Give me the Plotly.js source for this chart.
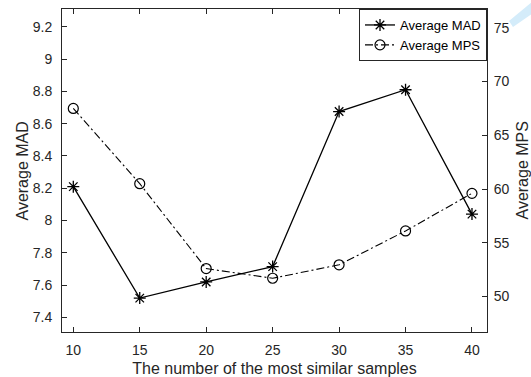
<!DOCTYPE html>
<html>
<head>
<meta charset="utf-8">
<script src="https://cdn.plot.ly/plotly-3.0.1.min.js"></script>
<style>html,body{margin:0;padding:0;background:#fff;}#chart{width:531px;height:377px;}</style>
</head>
<body>
<div id="chart"></div>
<script>
// Data
const samples = [10, 15, 20, 25, 30, 35, 40];
const averageMAD = [8.21, 7.52, 7.62, 7.715, 8.675, 8.81, 8.04];
const averageMPS = [67.5, 60.5, 52.6, 51.7, 52.95, 56.1, 59.6];
const xTicks = [10, 15, 20, 25, 30, 35, 40];
const madTicks = [7.4, 7.6, 7.8, 8, 8.2, 8.4, 8.6, 8.8, 9, 9.2];
const madTickText = ['7.4', '7.6', '7.8', '8', '8.2', '8.4', '8.6', '8.8', '9', '9.2'];
const mpsTicks = [50, 55, 60, 65, 70, 75];

const FONT = 'Liberation Sans, Arial, Helvetica, sans-serif';
const INK = '#262626';

const traces = [
  {
    x: samples, y: averageMAD, name: 'Average MAD', type: 'scatter', mode: 'lines+markers',
    line: {color: '#000', width: 1.3},
    marker: {symbol: 'asterisk-open', size: 10, color: '#000', line: {color: '#000', width: 1.3}},
    yaxis: 'y'
  },
  {
    x: samples, y: averageMPS, name: 'Average MPS', type: 'scatter', mode: 'lines+markers',
    line: {color: '#000', width: 1.1, dash: '8px,3px,2px,3px'},
    marker: {symbol: 'circle-open', size: 10, color: '#000', line: {color: '#000', width: 1.2}},
    yaxis: 'y2'
  }
];

const W = 531, H = 377, L = 62, R = 44, T = 9, B = 45;
const pw = W - L - R, ph = H - T - B;
const px = v => (v - L) / pw;
const py = v => (H - B - v) / ph;

const layout = {
  width: W, height: H,
  margin: {l: L, r: R, t: T, b: B, pad: 0},
  paper_bgcolor: '#fff', plot_bgcolor: '#fff',
  font: {family: FONT, size: 14, color: INK},
  showlegend: true,
  legend: {
    x: 1, y: 1, xanchor: 'right', yanchor: 'top',
    bgcolor: '#fff', bordercolor: INK, borderwidth: 1,
    font: {family: FONT, size: 13, color: '#000'},
    tracegroupgap: 0, itemwidth: 30
  },
  xaxis: {
    range: [9.15, 41.13], tickvals: xTicks, ticks: 'inside', ticklen: 5, tickwidth: 1, tickcolor: INK,
    showline: true, linecolor: INK, linewidth: 1, mirror: 'ticks', showgrid: false, zeroline: false,
    tickfont: {family: FONT, size: 14, color: INK}, ticklabelstandoff: 5,
    title: {text: 'The number of the most similar samples', font: {family: FONT, size: 16, color: INK}, standoff: 8}
  },
  yaxis: {
    range: [7.31, 9.31], tickvals: madTicks, ticktext: madTickText, ticks: 'inside', ticklen: 5, tickwidth: 1, tickcolor: INK,
    showline: true, linecolor: INK, linewidth: 1, showgrid: false, zeroline: false,
    tickfont: {family: FONT, size: 14, color: INK}, ticklabelstandoff: 6
  },
  yaxis2: {
    range: [46.7, 76.75], tickvals: mpsTicks, ticks: 'inside', ticklen: 5, tickwidth: 1, tickcolor: INK,
    overlaying: 'y', side: 'right', anchor: 'x',
    showline: true, linecolor: INK, linewidth: 1, showgrid: false, zeroline: false,
    tickfont: {family: FONT, size: 14, color: INK}, ticklabelstandoff: 3
  },
  annotations: [
    {text: 'Average MAD', xref: 'paper', yref: 'paper', x: px(21.5), y: py(171), textangle: -90,
     showarrow: false, xanchor: 'center', yanchor: 'middle', font: {family: FONT, size: 16, color: INK}},
    {text: 'Average MPS', xref: 'paper', yref: 'paper', x: px(521.5), y: py(171), textangle: -90,
     showarrow: false, xanchor: 'center', yanchor: 'middle', font: {family: FONT, size: 16, color: INK}}
  ],
  shapes: [
    {type: 'path', xref: 'paper', yref: 'paper', layer: 'below',
     path: `M ${px(509)} ${py(21)} L ${px(513)} ${py(27)} L ${px(533)} ${py(13)} L ${px(533)} ${py(1)} Z`,
     fillcolor: '#d4ecfa', line: {width: 0}}
  ]
};

Plotly.newPlot('chart', traces, layout, {staticPlot: true, displayModeBar: false});
</script>
</body>
</html>
